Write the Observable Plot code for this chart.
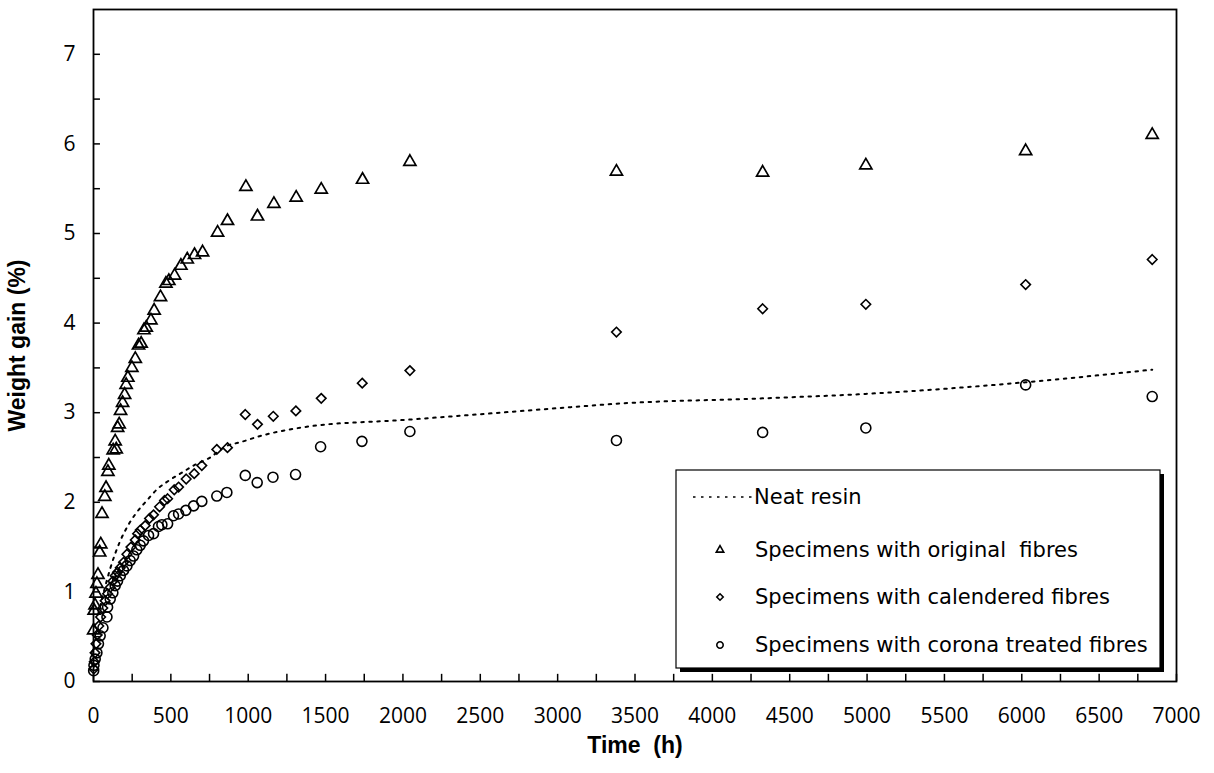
<!DOCTYPE html>
<html>
<head>
<meta charset="utf-8">
<script src="https://cdn.jsdelivr.net/npm/d3@7"></script>
<script src="https://cdn.jsdelivr.net/npm/@observablehq/plot@0.6"></script>
<style>
  html, body { margin: 0; padding: 0; background: #fff; }
  #chart { width: 1214px; height: 773px; }
</style>
</head>
<body>
<div id="chart"></div>
<script>
// ---- Data ----
const origTime = [1, 4, 10, 16, 22, 29, 40, 47, 55, 73, 81, 93, 99, 127, 140, 147, 156, 166, 175, 188, 201, 211, 222, 248, 270, 291, 308, 326, 341, 371, 392, 433, 468, 487, 524, 565, 606, 653, 705, 802, 866, 985, 1060, 1166, 1310, 1472, 1739, 2045, 3380, 4325, 4992, 6025, 6843];
const origGain = [0.57, 0.79, 0.85, 0.98, 1.09, 1.19, 1.44, 1.53, 1.87, 2.06, 2.16, 2.34, 2.41, 2.58, 2.68, 2.59, 2.83, 2.87, 3.02, 3.11, 3.20, 3.31, 3.39, 3.50, 3.60, 3.75, 3.77, 3.92, 3.95, 4.03, 4.14, 4.29, 4.44, 4.47, 4.53, 4.64, 4.71, 4.76, 4.79, 5.01, 5.14, 5.52, 5.19, 5.33, 5.40, 5.49, 5.60, 5.80, 5.69, 5.68, 5.76, 5.92, 6.10];

const calTime = [2, 5, 10, 16, 24, 34, 46, 60, 75, 91, 108, 125, 140, 155, 173, 194, 216, 242, 270, 285, 302, 334, 362, 388, 427, 459, 479, 522, 550, 599, 651, 700, 797, 866, 981, 1060, 1162, 1308, 1472, 1737, 2045, 3380, 4325, 4992, 6025, 6843];
const calGain = [0.14, 0.22, 0.32, 0.42, 0.52, 0.62, 0.72, 0.82, 0.90, 0.98, 1.05, 1.12, 1.18, 1.22, 1.27, 1.33, 1.42, 1.50, 1.58, 1.65, 1.69, 1.74, 1.82, 1.86, 1.95, 2.02, 2.04, 2.14, 2.17, 2.26, 2.32, 2.41, 2.59, 2.61, 2.98, 2.87, 2.96, 3.02, 3.16, 3.33, 3.47, 3.90, 4.16, 4.21, 4.43, 4.71];

const corTime = [1, 3, 11, 22, 32, 43, 61, 87, 91, 108, 125, 140, 155, 173, 194, 216, 237, 259, 280, 302, 323, 356, 388, 420, 442, 479, 517, 550, 597, 647, 700, 797, 862, 981, 1058, 1160, 1306, 1468, 1735, 2045, 3380, 4325, 4992, 6025, 6843];
const corGain = [0.12, 0.18, 0.25, 0.32, 0.42, 0.51, 0.60, 0.72, 0.83, 0.92, 0.99, 1.07, 1.12, 1.18, 1.24, 1.29, 1.35, 1.40, 1.47, 1.52, 1.57, 1.63, 1.65, 1.73, 1.75, 1.76, 1.85, 1.87, 1.91, 1.96, 2.01, 2.07, 2.11, 2.30, 2.22, 2.28, 2.31, 2.62, 2.68, 2.79, 2.69, 2.78, 2.83, 3.31, 3.18];

const resinTime = [30, 65, 108, 168, 226, 276, 345, 414, 485, 571, 647, 744, 862, 948, 1078, 1293, 1509, 1681, 1918, 2400, 3146, 3380, 4325, 4992, 6025, 6843];
const resinGain = [0.75, 0.99, 1.26, 1.55, 1.75, 1.88, 2.02, 2.15, 2.24, 2.33, 2.41, 2.49, 2.63, 2.67, 2.74, 2.82, 2.87, 2.89, 2.91, 2.97, 3.07, 3.10, 3.16, 3.21, 3.34, 3.48];

const xTickLabels = [0, 500, 1000, 1500, 2000, 2500, 3000, 3500, 4000, 4500, 5000, 5500, 6000, 6500, 7000];
const xTickMarks = d3.range(0, 7001, 250);
const yTickLabels = [0, 1, 2, 3, 4, 5, 6, 7];
const yTickMarks = d3.range(0, 7.01, 0.5);

const xTitle = "Time\u00a0\u00a0(h)";
const yTitle = "Weight gain (%)";
const legendLabels = ["Neat resin", "Specimens with original\u00a0\u00a0fibres", "Specimens with calendered fibres", "Specimens with corona treated fibres"];

// ---- Tables ----
const zip = (t, v) => t.map((d, i) => ({time: d, gain: v[i]}));
const orig = zip(origTime, origGain);
const cal = zip(calTime, calGain);
const cor = zip(corTime, corGain);
const resin = zip(resinTime, resinGain);

const tickFont = "'Open Sans', 'DejaVu Sans', sans-serif";
const legendFont = "'DejaVu Sans', sans-serif";
const labelFont = "'Liberation Sans', Arial, sans-serif";

const chart = Plot.plot({
  width: 1214,
  height: 773,
  marginLeft: 93,
  marginRight: 38,
  marginTop: 9,
  marginBottom: 92,
  style: {background: "white", color: "black", fontFamily: tickFont},
  x: {domain: [0, 7000]},
  y: {domain: [0, 7.5]},
  marks: [
    Plot.line(resin, {x: "time", y: "gain", stroke: "black", strokeWidth: 2, strokeDasharray: "2.5,5.5", curve: "monotone-x"}),
    Plot.dot(orig, {x: "time", y: "gain", symbol: "triangle", r: 4.5, stroke: "black", strokeWidth: 1.7, fill: "none"}),
    Plot.dot(cal, {x: "time", y: "gain", symbol: "diamond2", r: 4.3, stroke: "black", strokeWidth: 1.6, fill: "none"}),
    Plot.dot(cor, {x: "time", y: "gain", symbol: "circle", r: 5, stroke: "black", strokeWidth: 1.6, fill: "none"}),
    Plot.ruleX(xTickMarks, {x: d => d, y1: 0, y2: 0.08, stroke: "black", strokeWidth: 1.5}),
    Plot.ruleY(yTickMarks, {y: d => d, x1: 0, x2: 45, stroke: "black", strokeWidth: 1.5}),
    Plot.axisX({ticks: xTickLabels, tickSize: 0, tickPadding: 27, fontSize: 21, label: null, tickFormat: d => String(d)}),
    Plot.axisY({ticks: yTickLabels, tickSize: 0, tickPadding: 18, fontSize: 21, label: null, tickFormat: d => String(d)}),
    Plot.frame({stroke: "black", strokeWidth: 1.8}),
    Plot.text([xTitle], {frameAnchor: "bottom", lineAnchor: "middle", textAnchor: "middle", dy: 64, fontSize: 23, fontWeight: "bold", fontFamily: labelFont, fill: "black"}),
    Plot.text([yTitle], {frameAnchor: "left", textAnchor: "middle", lineAnchor: "middle", dx: -76, rotate: -90, fontSize: 23, fontWeight: "bold", fontFamily: labelFont, fill: "black"})
  ]
});

document.getElementById("chart").appendChild(chart);

// ---- Legend (drawn into the same SVG) ----
const svg = d3.select(chart);
const lg = svg.append("g").attr("class", "legend").attr("text-anchor", "start");
const bx = 676, by = 470, bw = 484, bh = 198;
lg.append("rect").attr("x", bx + 4).attr("y", by + 4).attr("width", bw).attr("height", bh).attr("fill", "black");
lg.append("rect").attr("x", bx).attr("y", by).attr("width", bw).attr("height", bh).attr("fill", "white").attr("stroke", "black").attr("stroke-width", 1.2);

const rowY = [497, 550, 597, 645];
lg.append("line").attr("x1", 693).attr("x2", 752).attr("y1", rowY[0]).attr("y2", rowY[0])
  .attr("stroke", "black").attr("stroke-width", 1.6).attr("stroke-dasharray", "2.5,5.5");

const legSymbols = [null, d3.symbolTriangle, d3.symbolDiamond2, d3.symbolCircle];
const legSizes = [0, 24, 26, 32];
legSymbols.forEach((s, i) => {
  if (!s) return;
  lg.append("path").attr("d", d3.symbol(s, legSizes[i])())
    .attr("transform", `translate(720,${rowY[i]})`)
    .attr("fill", "none").attr("stroke", "black").attr("stroke-width", 1.6);
});

legendLabels.forEach((t, i) => {
  lg.append("text").attr("x", i === 0 ? 754 : 755).attr("y", rowY[i])
    .attr("dy", "0.35em").attr("font-size", 21).attr("font-family", legendFont)
    .attr("text-anchor", "start").attr("fill", "black").text(t);
});
</script>
</body>
</html>
